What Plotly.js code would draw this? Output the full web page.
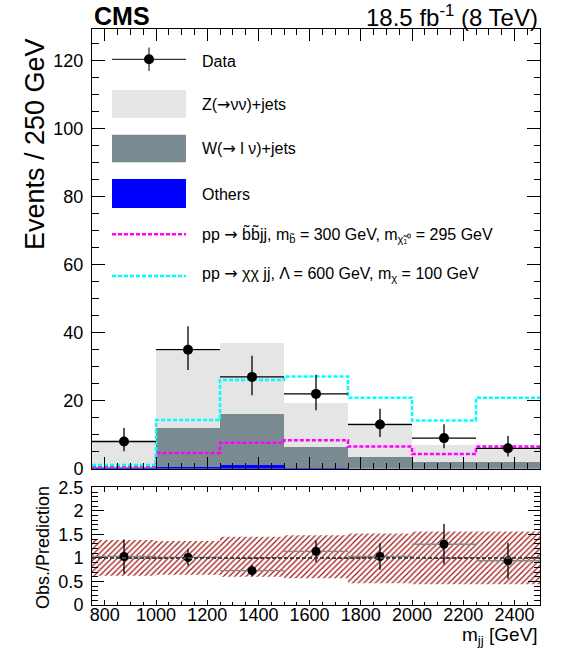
<!DOCTYPE html>
<html>
<head>
<meta charset="utf-8">
<script src="https://cdn.plot.ly/plotly-3.0.1.min.js"></script>
<style>html,body{margin:0;padding:0;background:#fff;}#plot{width:568px;height:657px;}</style>
</head>
<body>
<div id="plot"></div>
<script>
// ---- data ----
const binEdges   = [750, 1000, 1250, 1500, 1750, 2000, 2250, 2500];
const binCenters = [875, 1125, 1375, 1625, 1875, 2125, 2375];
const binWidth   = 250;

const dataCounts = [8, 35, 27, 22, 13, 9, 6];
const dataErrUp  = [4.0, 6.9, 6.2, 5.6, 4.6, 4.1, 3.6];
const dataErrDn  = [2.9, 6.0, 5.4, 4.8, 3.7, 3.0, 2.4];

const bkgOthers  = [0.2, 0.5, 1.0, 0.3, 0.05, 0.05, 0.05];
const bkgW       = [0.4, 11.6, 15.2, 6.0, 3.5, 1.85, 1.85];
const bkgZ       = [7.2, 22.6, 20.9, 13.0, 9.1, 5.1, 4.3];

const sigSbottom = [0.7, 4.6, 7.6, 8.4, 6.5, 4.3, 6.5];
const sigDM      = [1.1, 14.3, 26.1, 27.1, 20.9, 14.2, 20.9];

const ratioVals  = [1.03, 1.01, 0.73, 1.14, 1.03, 1.29, 0.94];
const ratioErr   = [0.36, 0.17, 0.12, 0.23, 0.28, 0.43, 0.38];
const bandLo     = [0.62, 0.64, 0.60, 0.57, 0.46, 0.44, 0.44];
const bandHi     = [1.38, 1.36, 1.45, 1.48, 1.52, 1.56, 1.56];

const xTickVals  = [800, 1000, 1200, 1400, 1600, 1800, 2000, 2200, 2400];
const xTickText  = ['800','1000','1200','1400','1600','1800','2000','2200','2400'];

// ---- helpers ----
const FONT = 'Liberation Sans, Arial, Helvetica, sans-serif';
const L = 92, R = 540, T = 29, B = 605;
const px2x = p => (p - L) / (R - L);
const py2y = p => (B - p) / (B - T);
function stepY(vals){ return vals.concat([vals[vals.length-1]]); }
const ARROW = '<span style="font-family:DejaVu Sans">\u2192</span>';

// band polygon
const bandX = [], bandY = [];
for (let i = 0; i < binCenters.length; i++) { bandX.push(binEdges[i], binEdges[i+1]); bandY.push(bandHi[i], bandHi[i]); }
for (let i = binCenters.length - 1; i >= 0; i--) { bandX.push(binEdges[i+1], binEdges[i]); bandY.push(bandLo[i], bandLo[i]); }
bandX.push(bandX[0]); bandY.push(bandY[0]);

const cZ = '#e5e5e5', cW = '#798b90', cO = '#0000ff', cMag = '#ff00ff', cCyan = '#00ffff';

const traces = [
  {type:'bar', x:binCenters, y:bkgOthers, width:binWidth, xaxis:'x2', yaxis:'y2',
   marker:{color:cO, line:{width:0}}, hoverinfo:'skip'},
  {type:'bar', x:binCenters, y:bkgW, width:binWidth, xaxis:'x2', yaxis:'y2',
   marker:{color:cW, line:{width:0}}, hoverinfo:'skip'},
  {type:'bar', x:binCenters, y:bkgZ, width:binWidth, xaxis:'x2', yaxis:'y2',
   marker:{color:cZ, line:{width:0}}, hoverinfo:'skip'},
  {type:'scatter', mode:'lines', x:binEdges, y:stepY(sigSbottom), xaxis:'x2', yaxis:'y2',
   line:{shape:'hv', color:cMag, width:2.5, dash:'4px,2px'}},
  {type:'scatter', mode:'lines', x:binEdges, y:stepY(sigDM), xaxis:'x2', yaxis:'y2',
   line:{shape:'hv', color:cCyan, width:2.5, dash:'4px,2px'}},
  {type:'scatter', mode:'markers', x:binCenters, y:dataCounts, xaxis:'x2', yaxis:'y2',
   marker:{color:'#000', size:10},
   error_y:{type:'data', symmetric:false, array:dataErrUp, arrayminus:dataErrDn, width:0, thickness:1.3, color:'#000'},
   error_x:{type:'constant', value:binWidth/2, width:0, thickness:1.3, color:'#000'}},
  // ratio panel
  {type:'scatter', mode:'lines', x:bandX, y:bandY, xaxis:'x', yaxis:'y', fill:'toself',
   fillcolor:'rgba(0,0,0,0)', line:{width:0, color:'rgba(0,0,0,0)'},
   fillpattern:{shape:'/', fgcolor:'#a01212', bgcolor:'rgba(0,0,0,0)', size:4, solidity:0.3}, hoverinfo:'skip'},
  {type:'scatter', mode:'markers', x:binCenters, y:ratioVals, xaxis:'x', yaxis:'y',
   marker:{color:'#000', size:9},
   error_y:{type:'data', array:ratioErr, width:0, thickness:1.3, color:'#000'},
   error_x:{type:'constant', value:binWidth/2, width:0, thickness:1.3, color:'#888'}}
];

const axBase = {showline:true, linecolor:'#000', linewidth:1, mirror:'allticks', ticks:'inside',
  tickcolor:'#000', tickwidth:1, showgrid:false, zeroline:false,
  tickfont:{family:FONT, size:18, color:'#000'}};

const shapes = [
  {type:'line', xref:'x', yref:'y', x0:binEdges[0], x1:binEdges[binEdges.length-1], y0:1, y1:1,
   line:{color:'#444', width:2, dash:'4px,2px'}, layer:'above'},
  // legend: data
  {type:'line', xref:'paper', yref:'paper', x0:px2x(112), x1:px2x(186), y0:py2y(59.3), y1:py2y(59.3), line:{color:'#000', width:1}},
  {type:'line', xref:'paper', yref:'paper', x0:px2x(149), x1:px2x(149), y0:py2y(47.5), y1:py2y(71), line:{color:'#000', width:1}},
  {type:'circle', xref:'paper', yref:'paper', x0:px2x(144), x1:px2x(154), y0:py2y(64.3), y1:py2y(54.3), fillcolor:'#000', line:{width:0}},
  // legend boxes
  {type:'rect', xref:'paper', yref:'paper', x0:px2x(112), x1:px2x(186), y0:py2y(117.7), y1:py2y(90), fillcolor:cZ, line:{width:0}},
  {type:'rect', xref:'paper', yref:'paper', x0:px2x(112), x1:px2x(186), y0:py2y(162.3), y1:py2y(134.7), fillcolor:cW, line:{width:0}},
  {type:'rect', xref:'paper', yref:'paper', x0:px2x(112), x1:px2x(186), y0:py2y(208), y1:py2y(179), fillcolor:cO, line:{width:0}},
  {type:'line', xref:'paper', yref:'paper', x0:px2x(112), x1:px2x(186), y0:py2y(234.3), y1:py2y(234.3), line:{color:cMag, width:2.5, dash:'4px,2px'}},
  {type:'line', xref:'paper', yref:'paper', x0:px2x(112), x1:px2x(186), y0:py2y(276), y1:py2y(276), line:{color:cCyan, width:2.5, dash:'4px,2px'}}
];

function legText(txt, py){
  return {xref:'paper', yref:'paper', x:px2x(200), y:py2y(py), xanchor:'left', yanchor:'middle',
    text:txt, showarrow:false, font:{family:FONT, size:16, color:'#000'}};
}

const annotations = [
  {xref:'paper', yref:'paper', x:0, y:py2y(16), xanchor:'left', yanchor:'middle', showarrow:false,
   text:'<b>CMS</b>', font:{family:FONT, size:25, color:'#000'}},
  {xref:'paper', yref:'paper', x:1, y:py2y(16), xanchor:'right', yanchor:'middle', showarrow:false,
   text:'18.5 fb<sup>-1</sup> (8 TeV)', font:{family:FONT, size:24, color:'#000'}},
  {xref:'paper', yref:'paper', x:px2x(35), y:py2y(144), xanchor:'center', yanchor:'middle', showarrow:false,
   textangle:-90, text:'Events / 250 GeV', font:{family:FONT, size:27, color:'#000'}},
  {xref:'paper', yref:'paper', x:px2x(43), y:py2y(548), xanchor:'center', yanchor:'middle', showarrow:false,
   textangle:-90, text:'Obs./Prediction', font:{family:FONT, size:18, color:'#000'}},
  {xref:'paper', yref:'paper', x:1, y:py2y(636), xanchor:'right', yanchor:'middle', showarrow:false,
   text:'m<sub>jj</sub> [GeV]', font:{family:FONT, size:19, color:'#000'}},
  legText('Data', 61),
  legText('Z(' + ARROW + '\u03bd\u03bd)+jets', 104),
  legText('W(' + ARROW + ' l \u03bd)+jets', 148.5),
  legText('Others', 194),
  legText('pp ' + ARROW + ' b\u0303b\u0303jj, m<sub>b\u0303</sub> = 300 GeV, m<sub>\u03c7\u0303\u2081\u2070</sub> = 295 GeV', 234),
  legText('pp ' + ARROW + ' \u03c7\u03c7 jj, \u039b = 600 GeV, m<sub>\u03c7</sub> = 100 GeV', 274)
];

const layout = {
  width:568, height:657,
  margin:{l:L, r:568-R, t:T, b:657-B, pad:0},
  paper_bgcolor:'#fff', plot_bgcolor:'#fff',
  showlegend:false, barmode:'stack', bargap:0,
  font:{family:FONT, color:'#000'},
  xaxis: Object.assign({}, axBase, {domain:[0,1], anchor:'y', range:[binEdges[0], binEdges[binEdges.length-1]],
    tickvals:xTickVals, ticktext:xTickText, ticklen:5, ticklabelstandoff:-7,
    minor:{dtick:50, tick0:0, ticklen:3, ticks:'inside', tickcolor:'#000'}}),
  yaxis: Object.assign({}, axBase, {domain:[0, py2y(487.3)], anchor:'x', range:[0,2.5],
    tickvals:[0,0.5,1,1.5,2,2.5], ticktext:['0','0.5','1','1.5','2','2.5'], ticklen:12, ticklabelstandoff:4,
    minor:{dtick:0.1, tick0:0, ticklen:6, ticks:'inside', tickcolor:'#000'}}),
  xaxis2: Object.assign({}, axBase, {domain:[0,1], anchor:'y2', matches:'x', showticklabels:false,
    tickvals:xTickVals, ticklen:12,
    minor:{dtick:50, tick0:0, ticklen:6, ticks:'inside', tickcolor:'#000'}}),
  yaxis2: Object.assign({}, axBase, {domain:[py2y(468.7), 1], anchor:'x2', range:[0,129.3],
    dtick:20, tick0:0, ticklen:13, ticklabelstandoff:4,
    minor:{dtick:5, tick0:0, ticklen:6.5, ticks:'inside', tickcolor:'#000'}}),
  shapes:shapes, annotations:annotations
};

Plotly.newPlot('plot', traces, layout, {staticPlot:true, displayModeBar:false});
</script>
</body>
</html>
